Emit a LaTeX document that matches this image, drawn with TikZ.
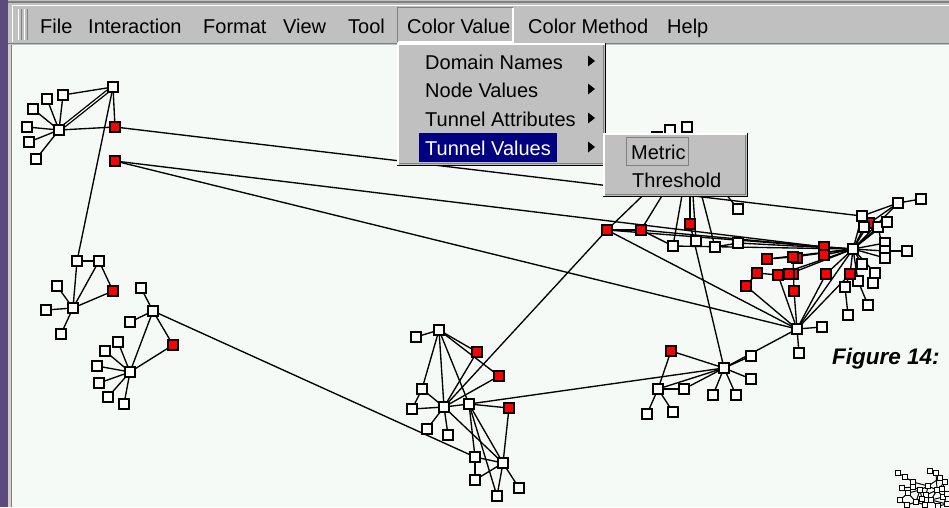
\documentclass[tikz,border=0pt]{standalone}
\usepackage{fontspec}
\setmainfont{Liberation Sans}
\definecolor{canv}{RGB}{246,250,247}
\definecolor{mgray}{RGB}{192,192,192}
\definecolor{dgray}{RGB}{128,128,128}
\definecolor{wpurple}{RGB}{92,73,126}
\definecolor{lframe}{RGB}{212,208,200}
\definecolor{hinavy}{RGB}{0,0,128}
\pgfdeclarelayer{edges}
\pgfsetlayers{edges,main}
\begin{document}
\begin{tikzpicture}[x=1pt,y=-1pt,
  wn/.style={draw=black, fill=white, line width=1.7pt, minimum size=10.5pt, inner sep=0pt, outer sep=0pt},
  rn/.style={wn, fill=red},
  tn/.style={draw=black, fill=white, line width=1pt, minimum size=4.5pt, inner sep=0pt, outer sep=0pt},
  ed/.style={line width=1.35pt, black},
  ted/.style={line width=1pt, black},
  dbl/.style={ed, double=white, double distance=1.1pt},
  menutxt/.style={font=\fontsize{20}{24}\selectfont, anchor=base west, inner sep=0pt, text=black},
  arrowtri/.style={fill=black},
]
\useasboundingbox (0,0) rectangle (949,507);

% ---------------- nodes ----------------
% cluster A
\node[wn] (a0) at (59,130) {};
\node[wn] (a1) at (113,87) {};
\node[wn] (a2) at (63,95) {};
\node[wn] (a3) at (47,99) {};
\node[wn] (a4) at (33,109) {};
\node[wn] (a5) at (27,127) {};
\node[wn] (a6) at (29,142) {};
\node[wn] (a7) at (36,159) {};
\node[rn] (ra1) at (115,127) {};
\node[rn] (ra2) at (115,161) {};
% cluster B
\node[wn] (b1) at (77,261) {};
\node[wn] (b2) at (99,261) {};
\node[rn] (rb) at (113,291) {};
\node[wn] (b3) at (73,308) {};
\node[wn] (b4) at (57,286) {};
\node[wn] (b5) at (46,310) {};
\node[wn] (b6) at (61,334) {};
% cluster C
\node[wn] (c1) at (153,311) {};
\node[wn] (c2) at (141,288) {};
\node[wn] (c3) at (130,322) {};
\node[rn] (rc) at (173,345) {};
\node[wn] (c4) at (130,372) {};
\node[wn] (c5) at (118,342) {};
\node[wn] (c6) at (105,351) {};
\node[wn] (c7) at (97,366) {};
\node[wn] (c8) at (99,383) {};
\node[wn] (c9) at (108,397) {};
\node[wn] (c10) at (124,404) {};
% cluster D
\node[wn] (d1) at (439,330) {};
\node[wn] (d2) at (416,337) {};
\node[rn] (rd1) at (477,352) {};
\node[rn] (rd2) at (499,376) {};
\node[wn] (d3) at (422,389) {};
\node[wn] (d4) at (412,409) {};
\node[wn] (d0) at (444,407) {};
\node[wn] (d5) at (469,404) {};
\node[rn] (rd3) at (509,408) {};
\node[wn] (d6) at (427,429) {};
\node[wn] (d7) at (448,435) {};
\node[wn] (d8) at (475,457) {};
\node[wn] (d9) at (503,463) {};
\node[wn] (d10) at (475,480) {};
\node[wn] (d11) at (497,496) {};
\node[wn] (d12) at (519,488) {};
% cluster G (hub hidden by submenu)
\coordinate (g0) at (690,150);
\node[wn] (t0) at (657,137) {};
\node[wn] (t1) at (670,130) {};
\node[wn] (t2) at (687,127) {};
\node[rn] (r607) at (607,230) {};
\node[rn] (r641) at (641,230) {};
\node[rn] (r690) at (690,224) {};
\node[wn] (g1) at (673,246) {};
\node[wn] (g2) at (696,241) {};
\node[wn] (g3) at (715,247) {};
\node[wn] (g4) at (738,209) {};
\node[wn] (g5) at (738,243) {};
% cluster E
\node[rn] (re) at (671,351) {};
\node[wn] (e0) at (724,368) {};
\node[wn] (e1) at (751,356) {};
\node[wn] (e2) at (751,379) {};
\node[wn] (e3) at (736,395) {};
\node[wn] (e4) at (713,395) {};
\node[wn] (e5) at (658,389) {};
\node[wn] (e6) at (684,389) {};
\node[wn] (e7) at (647,414) {};
\node[wn] (e8) at (673,412) {};
% cluster F
\node[rn] (rf1) at (869,223) {};
\node[wn] (f3) at (853,249) {};
\node[wn] (fa) at (862,216) {};
\node[wn] (fb) at (864,227) {};
\node[wn] (fc) at (878,227) {};
\node[wn] (fd) at (887,222) {};
\node[wn] (fe) at (898,203) {};
\node[wn] (ff) at (921,199) {};
\node[wn] (fg) at (885,243) {};
\node[wn] (fh) at (885,251) {};
\node[wn] (fi) at (885,258) {};
\node[wn] (fj) at (907,251) {};
\node[wn] (fk) at (862,264) {};
\node[wn] (fl) at (875,273) {};
\node[wn] (fm) at (873,283) {};
\node[wn] (fn) at (858,281) {};
\node[rn] (rf2) at (850,274) {};
\node[wn] (fo) at (845,287) {};
\node[wn] (fp) at (868,305) {};
\node[wn] (fq) at (848,315) {};
\node[rn] (rf3) at (824,247) {};
\node[rn] (rf4) at (824,255) {};
\node[rn] (rf5) at (767,259) {};
\node[rn] (rf6b) at (797,258) {};
\node[rn] (rf6) at (793,257) {};
\node[rn] (rf7) at (757,273) {};
\node[rn] (rf8) at (778,275) {};
\node[rn] (rf9b) at (793,274) {};
\node[rn] (rf9) at (789,274) {};
\node[rn] (rf10) at (826,274) {};
\node[rn] (rf11) at (746,286) {};
\node[rn] (rf12) at (794,291) {};
\node[wn] (f0) at (797,329) {};
\node[wn] (f1) at (822,327) {};
\node[wn] (f2) at (799,353) {};
% mini graph (bottom right)
\node[tn] (m1) at (898,473) {};
\node[tn] (m2) at (905,477) {};
\node[tn] (m3) at (913,482) {};
\node[tn] (m4) at (902,488) {};
\node[tn] (m5) at (908,493) {};
\node[tn] (m6) at (900,500) {};
\node[tn] (m7) at (930,471) {};
\node[tn] (m8) at (936,473) {};
\node[tn] (m9) at (940,478) {};
\node[tn] (m10) at (945,482) {};
\node[tn] (m11) at (920,490) {};
\node[tn] (m12) at (926,495) {};
\node[tn] (m13) at (931,500) {};
\node[tn] (m14) at (937,490) {};
\node[tn] (m15) at (943,497) {};
\node[tn] (m16) at (916,502) {};
\node[tn] (m17) at (947,504) {};
\node[tn] (m18) at (913,487) {};
\node[tn] (m19) at (928,486) {};
\node[tn] (m20) at (907,505) {};
\node[tn] (m21) at (938,506) {};
\node[tn] (m22) at (922,499) {};
\node[tn] (m23) at (942,489) {};
\node[tn] (m24) at (925,505) {};
\node[tn] (m25) at (947,494) {};

% ---------------- edges ----------------
\begin{pgfonlayer}{edges}
\fill[canv] (0,0) rectangle (949,507);
% A
\draw[dbl] (a0) -- (a1);
\foreach \n in {a2,a3,a4,a5,a6,a7,ra1} \draw[ed] (a0) -- (\n);
\draw[ed] (a2) -- (a1);
\draw[ed] (a1) -- (ra1);
\draw[ed] (a1) -- (b1);
\draw[ed] (ra1) -- (fa);
\draw[ed] (ra2) -- (rf3);
\draw[ed] (ra2) -- (f0);
% B
\draw[ed] (b1) -- (b2);
\foreach \n in {b1,b2,rb,b4,b5,b6} \draw[ed] (b3) -- (\n);
\draw[ed] (b2) -- (rb);
% C
\foreach \n in {c2,c3,rc,c4} \draw[ed] (c1) -- (\n);
\foreach \n in {rc,c5,c6,c7,c8,c9,c10} \draw[ed] (c4) -- (\n);
\draw[ed] (c1) -- (d8);
% D
\foreach \n in {d2,rd1,rd2,d3,d0,d5} \draw[ed] (d1) -- (\n);
\foreach \n in {rd1,rd2,d3,d4,d5,d6,d7,d9,r607} \draw[ed] (d0) -- (\n);
\draw[ed] (d3) -- (d4);
\draw[ed] (d5) -- (rd3);
\draw[ed] (rd3) -- (d9);
\draw[ed] (d5) -- (d9);
\draw[ed] (d5) -- (d8);
\draw[ed] (d5) -- (d11);
\foreach \n in {d8,d10,d11,d12} \draw[ed] (d9) -- (\n);
\draw[ed] (d8) -- (d10);
\draw[ed] (d5) -- (e0);
% G
\foreach \n in {r607,r641,r690,g1,g2,g3,g4,t0,t1,t2} \draw[ed] (g0) -- (\n);
\draw[ed] (r607) -- (r641);
\draw[ed] (r641) -- (g1);
\draw[ed] (r607) -- (f3);
\draw[ed] (r641) -- (rf3);
\draw[ed] (g1) -- (f3);
\draw[ed] (g5) -- (f3);
\draw[ed] (g3) -- (g5);
\draw[ed] (r607) -- (f0);
% E
\foreach \n in {e1,e2,e3,e4,e5,e6,re,f0,r690} \draw[ed] (e0) -- (\n);
\draw[ed] (re) -- (e5);
\foreach \n in {e6,e7,e8} \draw[ed] (e5) -- (\n);
% F
\foreach \n in {fa,fb,rf1,fc,fd,fe,fg,fh,fi,fk,rf2,fl,fn,rf3,rf4,rf5,rf6,rf8,rf9,rf10,f0} \draw[ed] (f3) -- (\n);
\draw[ed] (fe) -- (ff);
\draw[ed] (fe) -- (fa);
\draw[ed] (fe) -- (fb);
\draw[ed] (fc) -- (fi);
\draw[ed] (fh) -- (fj);
\draw[ed] (fo) -- (fq);
\draw[ed] (fn) -- (fp);
\draw[ed] (rf2) -- (fo);
\draw[ed] (rf2) -- (fn);
\draw[ed] (fk) -- (rf2);
\draw[ed] (fl) -- (fm);
\draw[ed] (rf5) -- (rf6);
\draw[ed] (rf7) -- (rf8);
\draw[ed] (rf8) -- (rf9);
\draw[ed] (rf11) -- (rf7);
\draw[ed] (rf6) -- (rf12);
\draw[ed] (rf12) -- (f0);
\foreach \n in {f1,f2,rf8,rf10,rf11,rf2} \draw[ed] (f0) -- (\n);
% mini graph
\foreach \p/\q in {m1/m2,m2/m3,m3/m18,m18/m11,m4/m18,m4/m5,m5/m11,m6/m5,m7/m8,m8/m9,m9/m10,m9/m19,m10/m14,m19/m11,m19/m14,m11/m12,m12/m13,m14/m15,m12/m16,m13/m17,m15/m17,m16/m20,m13/m21,m14/m13,m3/m19,m8/m14,m6/m20,m11/m16,m22/m12,m22/m16,m23/m14,m23/m25,m25/m15,m24/m13,m24/m16,m22/m11,m10/m23,m19/m12,m14/m12,m13/m15,m21/m17,m5/m16}
  \draw[ted] (\p) -- (\q);
\end{pgfonlayer}

% ---------------- window frame ----------------
\fill[wpurple] (0,0) rectangle (8,507);
\fill[lframe] (8,45) rectangle (11,507);
\draw[dgray, line width=0.8pt] (11.5,45) -- (11.5,507);
% menu bar
\fill[mgray] (8,0) rectangle (949,45);
\draw[dgray, line width=1.5pt] (8,2) -- (949,2);
\draw[white, line width=1pt] (12,5) -- (949,5);
\draw[white, line width=1pt] (12.5,5) -- (12.5,42);
\draw[dgray, line width=1.5pt] (8,43.5) -- (949,43.5);
% grip
\draw[white, line width=1.3pt] (18.5,9) -- (18.5,40);
\draw[dgray, line width=1.3pt] (21.5,9) -- (21.5,40);
\draw[white, line width=1.3pt] (24.5,9) -- (24.5,40);
\draw[dgray, line width=1.3pt] (27.5,9) -- (27.5,40);
% Color Value pressed box
\draw[dgray, line width=1.2pt] (397.5,42) -- (397.5,7.5) -- (513,7.5);
\draw[white, line width=1.2pt] (513,7.5) -- (513,42) -- (397.5,42);
% menu items
\node[menutxt] (mfile) at (40,33) {File};
\node[menutxt] (minter) at (88,33) {Interaction};
\node[menutxt] (mformat) at (203,33) {Format};
\node[menutxt] (mview) at (283,33) {View};
\node[menutxt] (mtool) at (348,33) {Tool};
\node[menutxt] (mcolval) at (407,33) {Color Value};
\node[menutxt] (mcolmeth) at (528,33) {Color Method};
\node[menutxt] (mhelp) at (667,33) {Help};

% ---------------- dropdown ----------------
\fill[mgray] (397,43) rectangle (606,166);
\draw[white, line width=1.2pt] (398,165) -- (398,44) -- (605,44);
\draw[dgray, line width=1pt] (399,163.5) -- (603.5,163.5) -- (603.5,45);
\draw[black, line width=1.5pt] (397,165.5) -- (605.5,165.5) -- (605.5,43);
\fill[hinavy] (419,133) rectangle (557,162);
\node[menutxt] (idom) at (425,69) {Domain Names};
\node[menutxt] (inode) at (425,97) {Node Values};
\node[menutxt] (iattr) at (425,126) {Tunnel Attributes};
\node[menutxt, text=white] (ival) at (425,155) {Tunnel Values};
\foreach \yy in {61,89,118,147}
  \fill[arrowtri] (588,\yy-5.5) -- (595,\yy) -- (588,\yy+5.5) -- cycle;

% ---------------- submenu ----------------
\fill[mgray] (603,133) rectangle (748,197);
\draw[white, line width=1.2pt] (604,196) -- (604,134) -- (747,134);
\draw[dgray, line width=1pt] (605,194.5) -- (745.5,194.5) -- (745.5,135);
\draw[black, line width=1.5pt] (603,196.5) -- (747.5,196.5) -- (747.5,133);
\draw[dgray, line width=1pt] (626.5,137.5) rectangle (688.5,165.5);
\node[menutxt] (smetric) at (631,159) {Metric};
\node[menutxt] (sthresh) at (632,187) {Threshold};

% ---------------- caption fragment ----------------
\node[anchor=base west, inner sep=0pt, font=\fontsize{22.5}{27}\selectfont\bfseries\itshape] (fig) at (832,364) {Figure 14:};
\end{tikzpicture}
\end{document}
